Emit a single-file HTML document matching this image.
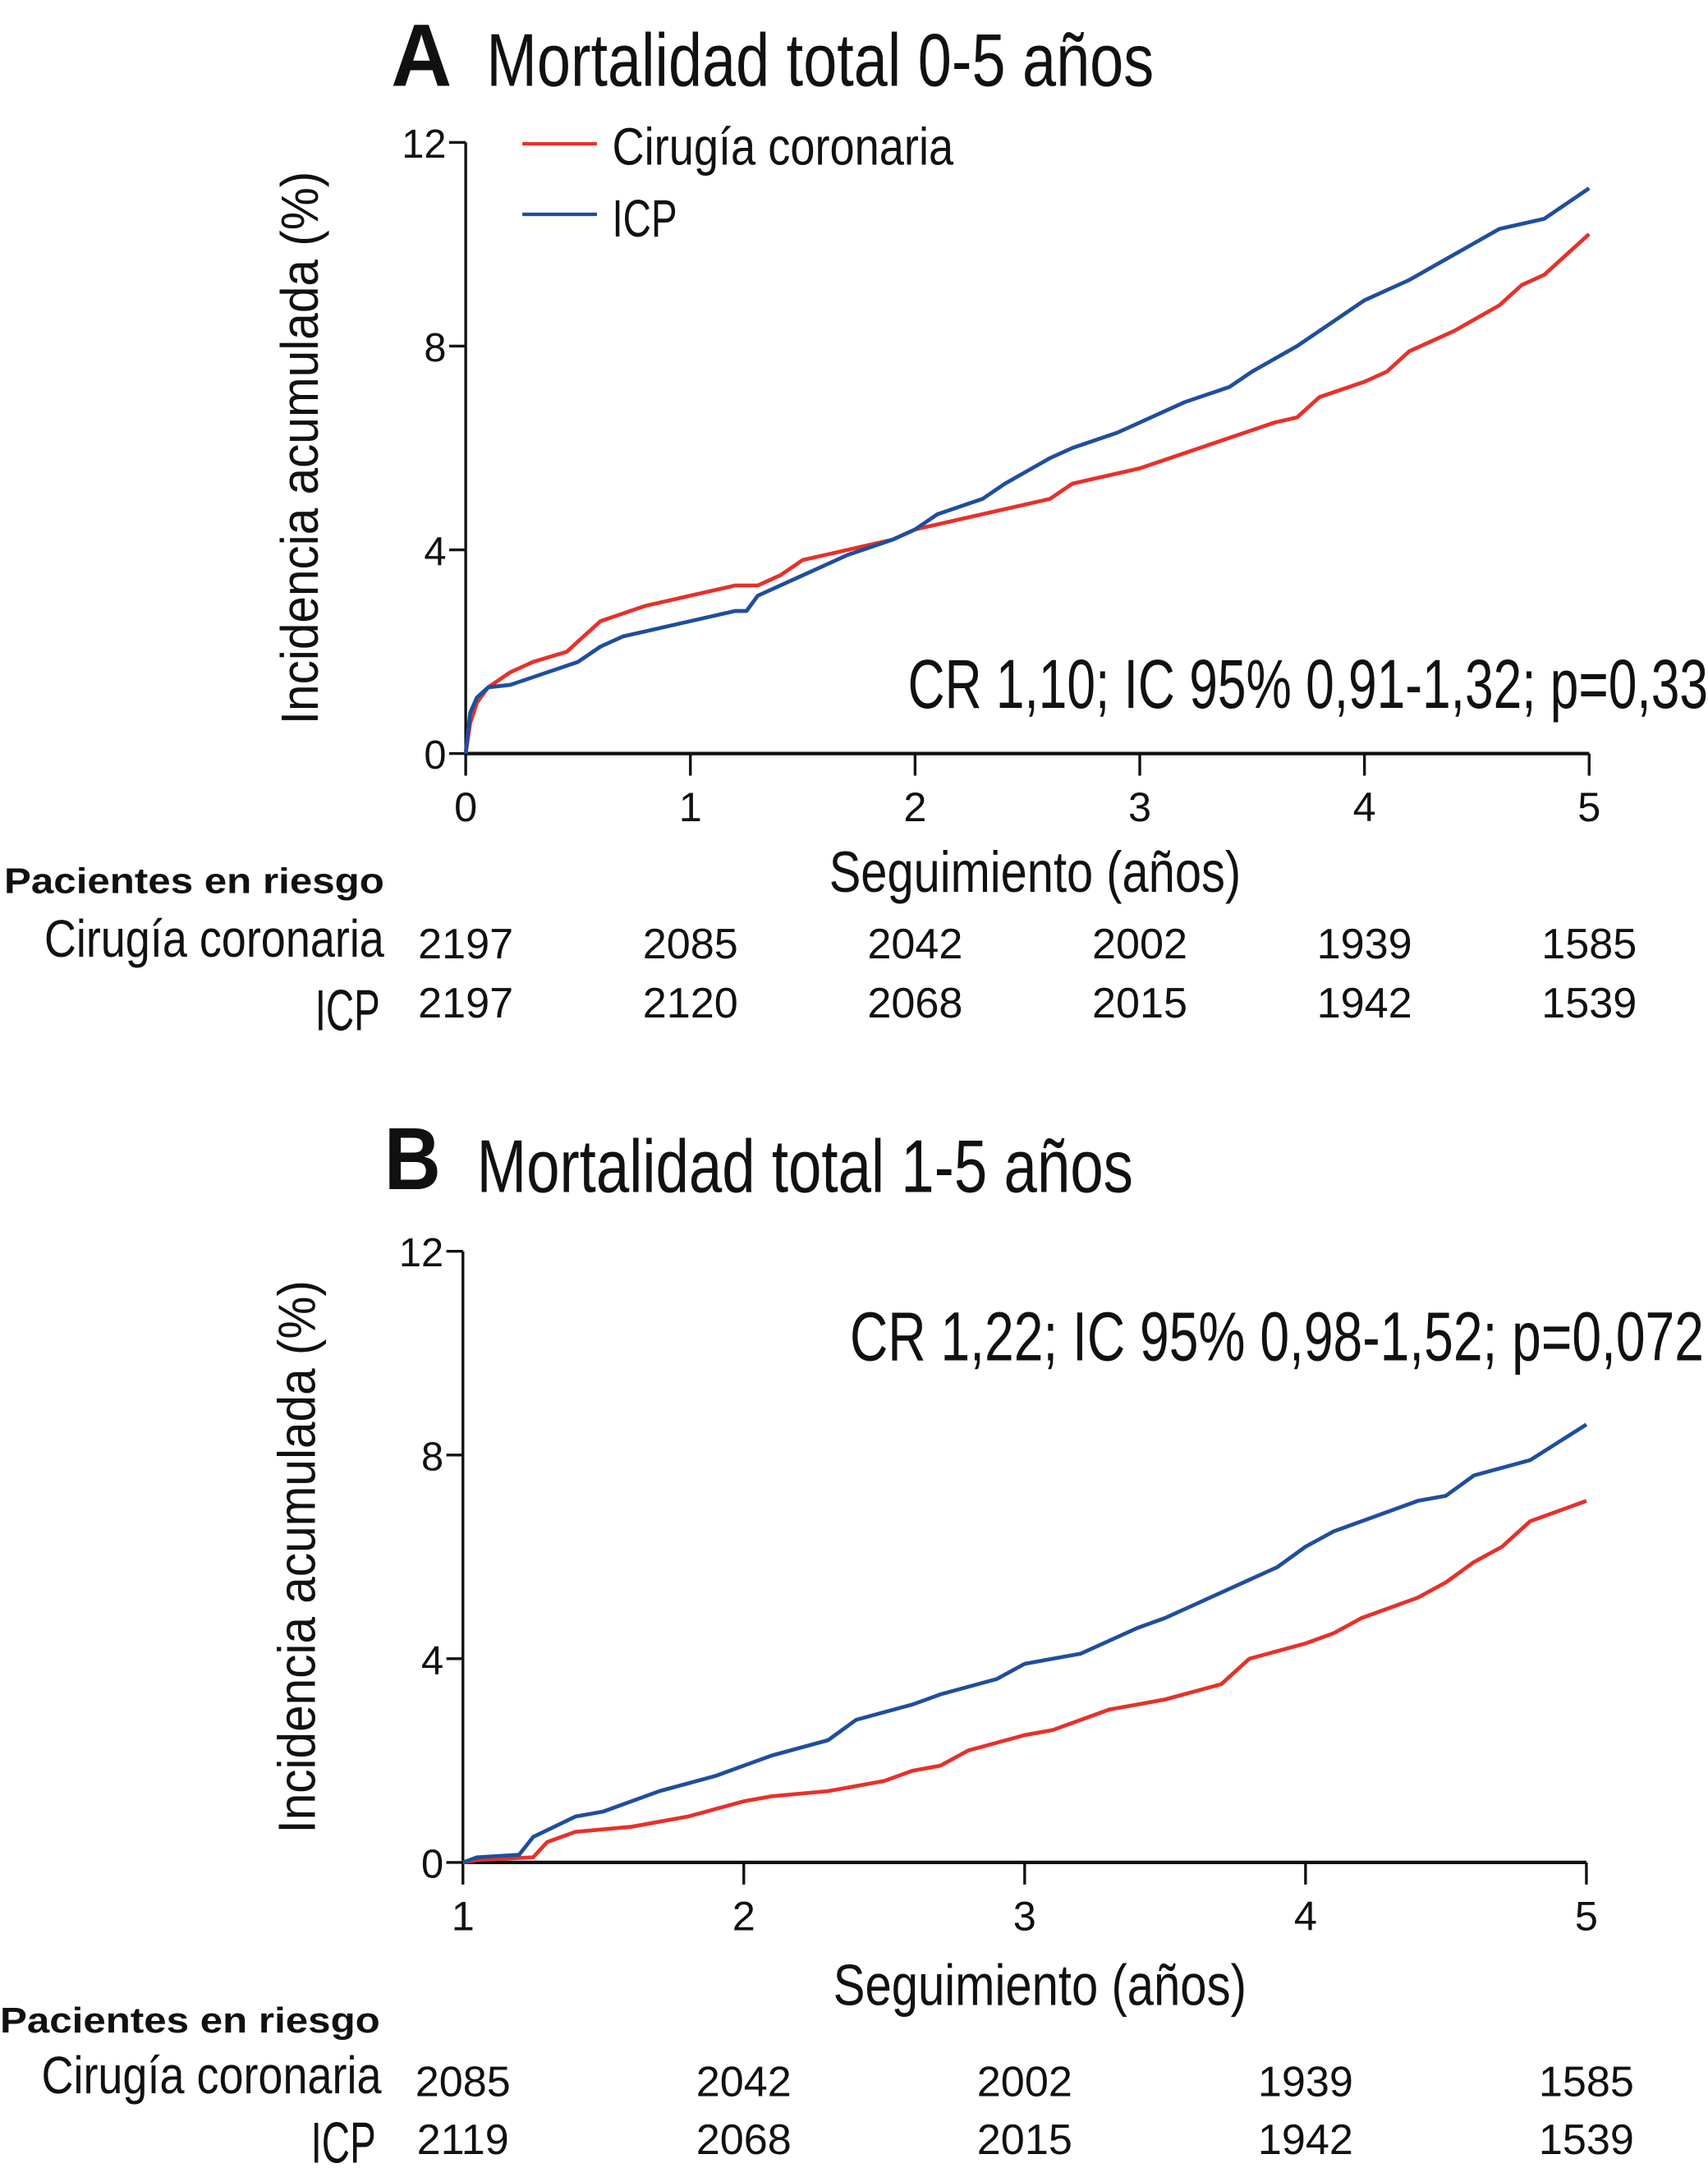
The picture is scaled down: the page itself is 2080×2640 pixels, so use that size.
<!DOCTYPE html>
<html><head><meta charset="utf-8"><style>
html,body{margin:0;padding:0;background:#fff}
svg{display:block}
text{font-family:"Liberation Sans",sans-serif;fill:#111}
</style></head><body>
<svg id="s" width="2080" height="2640" viewBox="0 0 1236 1568" preserveAspectRatio="none" xmlns="http://www.w3.org/2000/svg">
<g id="pA">
<text x="283" y="62" font-size="64" font-weight="bold" textLength="44" lengthAdjust="spacingAndGlyphs">A</text>
<text x="352" y="62" font-size="54" textLength="483" lengthAdjust="spacingAndGlyphs">Mortalidad total 0-5 años</text>
<line x1="378" y1="104" x2="432" y2="104" stroke="#e8302a" stroke-width="2.5"/>
<text x="443" y="119" font-size="38" textLength="247" lengthAdjust="spacingAndGlyphs">Cirugía coronaria</text>
<line x1="378" y1="155" x2="432" y2="155" stroke="#1f4e9e" stroke-width="2.5"/>
<text x="443" y="171" font-size="38" textLength="47" lengthAdjust="spacingAndGlyphs">ICP</text>
<text x="657" y="512" font-size="50" textLength="579" lengthAdjust="spacingAndGlyphs">CR 1,10; IC 95% 0,91-1,32; p=0,33</text>
<text x="600" y="645" font-size="42" textLength="298" lengthAdjust="spacingAndGlyphs">Seguimiento (años)</text>
<text x="3" y="646" font-size="26" font-weight="bold" textLength="275" lengthAdjust="spacingAndGlyphs">Pacientes en riesgo</text>
<text x="32" y="692" font-size="38" textLength="246" lengthAdjust="spacingAndGlyphs">Cirugía coronaria</text>
<text x="228" y="745" font-size="42" textLength="47" lengthAdjust="spacingAndGlyphs">ICP</text>
</g>
<g id="pB">
<text x="278" y="860" font-size="64" font-weight="bold" textLength="41" lengthAdjust="spacingAndGlyphs">B</text>
<text x="345" y="862" font-size="54" textLength="475" lengthAdjust="spacingAndGlyphs">Mortalidad total 1-5 años</text>
<text x="615" y="984" font-size="50" textLength="618" lengthAdjust="spacingAndGlyphs">CR 1,22; IC 95% 0,98-1,52; p=0,072</text>
<text x="603" y="1450" font-size="42" textLength="299" lengthAdjust="spacingAndGlyphs">Seguimiento (años)</text>
<text x="0" y="1470" font-size="26" font-weight="bold" textLength="275" lengthAdjust="spacingAndGlyphs">Pacientes en riesgo</text>
<text x="30" y="1514" font-size="38" textLength="246" lengthAdjust="spacingAndGlyphs">Cirugía coronaria</text>
<text x="225" y="1564" font-size="42" textLength="47" lengthAdjust="spacingAndGlyphs">ICP</text>
</g>
</svg>
<script>
const yTicks=[0,4,8,12];
const aXTicks=[0,1,2,3,4,5];
const aRiskCir=[2197,2085,2042,2002,1939,1585];
const aRiskIcp=[2197,2120,2068,2015,1942,1539];
const aCirX=[0,0.02,0.05,0.1,0.2,0.3,0.45,0.5,0.6,0.8,0.9,1.0,1.2,1.3,1.4,1.5,1.6,1.8,1.9,2.0,2.2,2.4,2.6,2.7,3.0,3.2,3.4,3.6,3.7,3.8,4.0,4.1,4.2,4.4,4.6,4.7,4.8,5.0];
const aCirY=[0,0.6,1.0,1.3,1.6,1.8,2.0,2.2,2.6,2.9,3.0,3.1,3.3,3.3,3.5,3.8,3.9,4.1,4.2,4.4,4.6,4.8,5.0,5.3,5.6,5.9,6.2,6.5,6.6,7.0,7.3,7.5,7.9,8.3,8.8,9.2,9.4,10.2];
const aIcpX=[0,0.02,0.05,0.1,0.2,0.3,0.5,0.6,0.7,0.8,1.0,1.2,1.25,1.3,1.5,1.7,1.9,2.0,2.1,2.3,2.4,2.6,2.7,2.9,3.0,3.2,3.4,3.5,3.7,3.9,4.0,4.1,4.2,4.4,4.6,4.8,5.0];
const aIcpY=[0,0.8,1.1,1.3,1.35,1.5,1.8,2.1,2.3,2.4,2.6,2.8,2.8,3.1,3.5,3.9,4.2,4.4,4.7,5.0,5.3,5.8,6.0,6.3,6.5,6.9,7.2,7.5,8.0,8.6,8.9,9.1,9.3,9.8,10.3,10.5,11.1];
const bXTicks=[1,2,3,4,5];
const bRiskCir=[2085,2042,2002,1939,1585];
const bRiskIcp=[2119,2068,2015,1942,1539];
const bCirX=[1,1.05,1.25,1.3,1.4,1.6,1.8,2.0,2.1,2.3,2.5,2.6,2.7,2.8,3.0,3.1,3.3,3.5,3.7,3.8,4.0,4.1,4.2,4.4,4.5,4.6,4.7,4.8,5.0];
const bCirY=[0,0.05,0.1,0.4,0.6,0.7,0.9,1.2,1.3,1.4,1.6,1.8,1.9,2.2,2.5,2.6,3.0,3.2,3.5,4.0,4.3,4.5,4.8,5.2,5.5,5.9,6.2,6.7,7.1];
const bIcpX=[1,1.05,1.2,1.25,1.4,1.5,1.7,1.9,2.0,2.1,2.3,2.4,2.6,2.7,2.9,3.0,3.2,3.4,3.5,3.7,3.9,4.0,4.1,4.2,4.4,4.5,4.6,4.8,5.0];
const bIcpY=[0,0.1,0.15,0.5,0.9,1.0,1.4,1.7,1.9,2.1,2.4,2.8,3.1,3.3,3.6,3.9,4.1,4.6,4.8,5.3,5.8,6.2,6.5,6.7,7.1,7.2,7.6,7.9,8.6];
const NS='http://www.w3.org/2000/svg';
function mk(parent,tag,attrs,txt){const e=document.createElementNS(NS,tag);for(const k in attrs)e.setAttribute(k,attrs[k]);if(txt!==undefined)e.textContent=txt;parent.appendChild(e);return e;}
function panel(g,id,x0,x1,px0,px1,py0,py1,xt,rc,ri,rcY,riY,cx,cy,ix,iy){
  const X=v=>px0+(v-x0)/(x1-x0)*(px1-px0);
  const Y=v=>py0+(v/12)*(py1-py0);
  let e=mk(g,'line',{x1:px0,y1:py1,x2:px0,y2:py0,stroke:'#111','stroke-width':2});
  
  
  e=mk(g,'line',{x1:px0,y1:py0,x2:px1,y2:py0,stroke:'#111','stroke-width':2.5});
  
  
  yTicks.forEach(t=>{
    e=mk(g,'line',{x1:px0-12,y1:Y(t),x2:px0,y2:Y(t),stroke:'#111','stroke-width':2});
    
    
    e=mk(g,'text',{x:px0-14,y:Y(t)+11,'font-size':29,'text-anchor':'end',fill:'#222'},String(t));
    
    
  });
  xt.forEach((t,i)=>{
    e=mk(g,'line',{x1:X(t),y1:py0,x2:X(t),y2:py0+16,stroke:'#111','stroke-width':2});
    
    
    e=mk(g,'text',{x:X(t),y:py0+49,'font-size':30,'text-anchor':'middle',fill:'#222'},String(t));
    
    
    e=mk(g,'text',{x:X(t),y:rcY,'font-size':31,'text-anchor':'middle',fill:'#222'},String(rc[i]));
    
    
    e=mk(g,'text',{x:X(t),y:riY,'font-size':31,'text-anchor':'middle',fill:'#222'},String(ri[i]));
    
    
  });
  e=mk(g,'text',{transform:`translate(${px0-107},${(py0+py1)/2}) rotate(-90)`,'font-size':38,'text-anchor':'middle',textLength:400,lengthAdjust:'spacingAndGlyphs'},'Incidencia acumulada (%)');
  
  
  function line(xs,ys){let d=`M${X(xs[0])},${Y(ys[0])}`;for(let i=1;i<xs.length;i++){d+=` L${X(xs[i])},${Y(ys[i])}`;}return d;}
  e=mk(g,'path',{d:line(cx,cy),fill:'none',stroke:'#e8302a','stroke-width':2.8,'stroke-linejoin':'round'});
  
  
  e=mk(g,'path',{d:line(ix,iy),fill:'none',stroke:'#1f4e9e','stroke-width':2.8,'stroke-linejoin':'round'});
  
  
}
panel(document.getElementById('pA'),'panel-a',0,5,337,1150,545,103,aXTicks,aRiskCir,aRiskIcp,693,736,aCirX,aCirY,aIcpX,aIcpY);
panel(document.getElementById('pB'),'panel-b',1,5,335,1148,1347,905,bXTicks,bRiskCir,bRiskIcp,1516,1558,bCirX,bCirY,bIcpX,bIcpY);
</script>
</body></html>
